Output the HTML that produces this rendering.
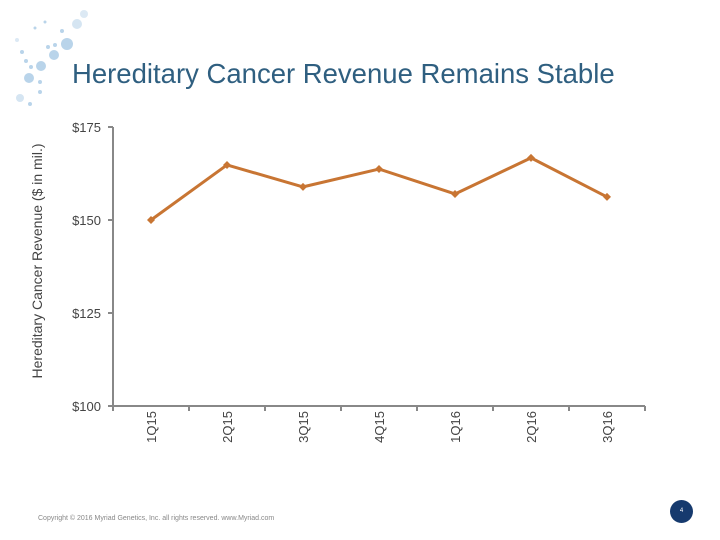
<!DOCTYPE html>
<html><head><meta charset="utf-8">
<style>
html,body{margin:0;padding:0;background:#fff;}
body{width:720px;height:540px;position:relative;overflow:hidden;font-family:"Liberation Sans",Arial,sans-serif;}
#title{position:absolute;left:72px;top:58px;font-size:27.5px;color:#2f5f80;white-space:nowrap;}
#copy{position:absolute;left:38px;top:515px;font-size:7px;color:#888;white-space:nowrap;}
#pg{position:absolute;left:670px;top:500px;width:23px;height:23px;border-radius:50%;background:#163a6e;color:#fff;font-size:6px;text-align:center;line-height:23px;}
svg{position:absolute;left:0;top:0;}
</style></head><body>
<svg width="720" height="540">
  <g fill="#b9d4ea">
    <circle cx="84" cy="14" r="4" opacity="0.5"/><circle cx="77" cy="24" r="5" opacity="0.6"/>
    <circle cx="67" cy="44" r="6"/><circle cx="54" cy="55" r="5"/><circle cx="41" cy="66" r="5"/>
    <circle cx="29" cy="78" r="5"/><circle cx="20" cy="98" r="4" opacity="0.6"/>
    <circle cx="17" cy="40" r="2" opacity="0.5"/><circle cx="22" cy="52" r="2"/><circle cx="26" cy="61" r="2"/>
    <circle cx="31" cy="67" r="2"/><circle cx="40" cy="82" r="2"/><circle cx="40" cy="92" r="2"/>
    <circle cx="55" cy="45" r="2"/><circle cx="48" cy="47" r="2"/><circle cx="62" cy="31" r="2"/>
    <circle cx="35" cy="28" r="1.5"/><circle cx="45" cy="22" r="1.5"/><circle cx="30" cy="104" r="2"/>
  </g>
  <g id="axes"></g>
  <g id="plot"></g>
</svg>
<div id="title">Hereditary Cancer Revenue Remains Stable</div>
<div id="copy">Copyright © 2016 Myriad Genetics, Inc. all rights reserved. www.Myriad.com</div>
<div id="pg">4</div>
<script>
const categories=["1Q15","2Q15","3Q15","4Q15","1Q16","2Q16","3Q16"];
const revenue=[150.0,164.8,158.9,163.7,157.0,166.7,156.2];
const yTicks=[100,125,150,175];
const yTickLabels=["$100","$125","$150","$175"];
const NS="http://www.w3.org/2000/svg";
const x0=113,x1=645,yMin=100,yMax=175,yTop=127,yBot=406;
const band=(x1-x0)/categories.length;
function xs(i){return x0+band*(i+0.5);}
function ys(v){return yBot-(v-yMin)/(yMax-yMin)*(yBot-yTop);}
function mk(tag,attrs,parent){const e=document.createElementNS(NS,tag);for(const k in attrs)e.setAttribute(k,attrs[k]);parent.appendChild(e);return e;}
const ax=document.getElementById('axes'),pl=document.getElementById('plot');
let e=mk('line',{x1:x0,y1:yTop,x2:x0,y2:yBot,stroke:'#888','stroke-width':2},ax);


e=mk('line',{x1:x0,y1:yBot,x2:x1,y2:yBot,stroke:'#888','stroke-width':2},ax);


yTicks.forEach((v,i)=>{
  const y=ys(v);
  mk('line',{x1:x0-5,y1:y,x2:x0,y2:y,stroke:'#888','stroke-width':2},ax);
  const t=mk('text',{x:x0-12,y:y+5,'text-anchor':'end','font-size':13,fill:'#444','font-family':'Liberation Sans, sans-serif'},ax);
  t.textContent=yTickLabels[i];
  
  
});
for(let i=0;i<=categories.length;i++){const x=x0+band*i;mk('line',{x1:x,y1:yBot,x2:x,y2:yBot+5,stroke:'#888','stroke-width':2},ax);}
categories.forEach((c,i)=>{
  const x=xs(i);
  const t=mk('text',{x:0,y:0,'text-anchor':'end','font-size':13,fill:'#444','font-family':'Liberation Sans, sans-serif',transform:`translate(${x+5},411) rotate(-90)`},ax);
  t.textContent=c;
  
  
});
const yt=mk('text',{x:0,y:0,'text-anchor':'middle','font-size':14,fill:'#444','font-family':'Liberation Sans, sans-serif',transform:'translate(42,261) rotate(-90)'},ax);
yt.textContent="Hereditary Cancer Revenue ($ in mil.)";


const pts=revenue.map((v,i)=>xs(i)+','+ys(v)).join(' ');
const ln=mk('polyline',{points:pts,fill:'none',stroke:'#c87533','stroke-width':3,'stroke-linejoin':'round'},pl);


revenue.forEach((v,i)=>{
  const x=xs(i),y=ys(v);
  const d=mk('polygon',{points:`${x},${y-4} ${x+4},${y} ${x},${y+4} ${x-4},${y}`,fill:'#c87533'},pl);
  
  
});
</script>
</body></html>
